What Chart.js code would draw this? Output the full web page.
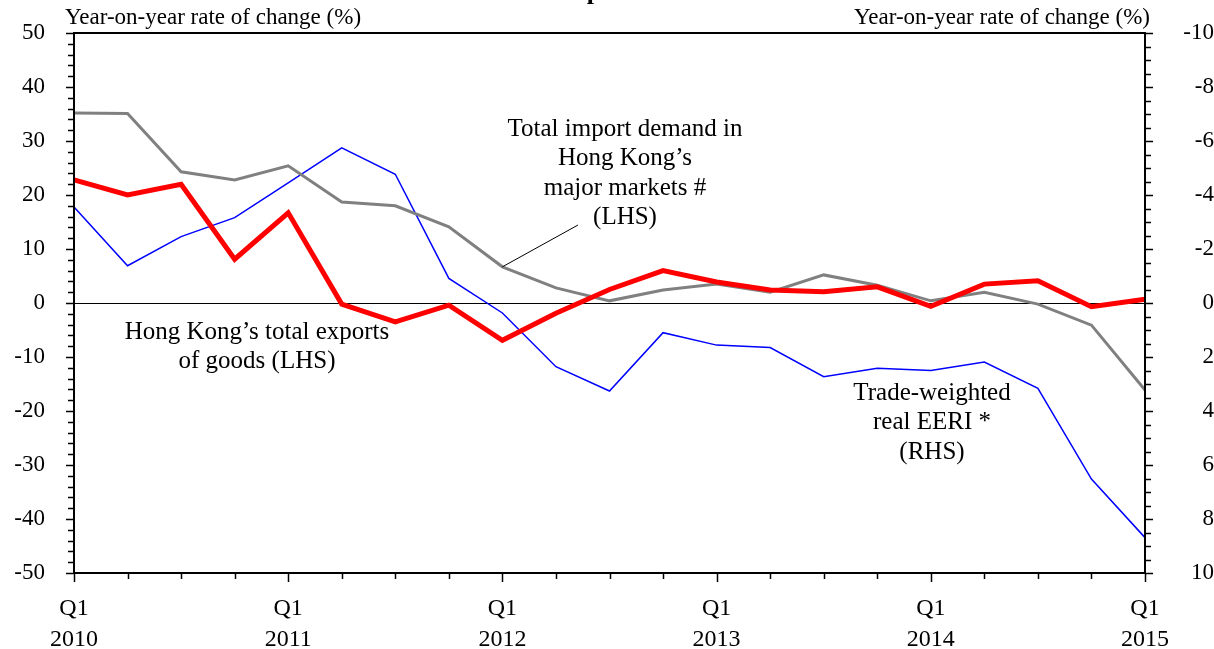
<!DOCTYPE html>
<html>
<head>
<meta charset="utf-8">
<script src="https://cdn.jsdelivr.net/npm/chart.js@4.4.1/dist/chart.umd.min.js"></script>
<style>
  html, body { margin: 0; padding: 0; background: #fff; }
  #wrap { width: 1214px; height: 649px; position: relative; }
</style>
</head>
<body>
<div id="wrap"><canvas id="chart"></canvas></div>
<script>
// quarters Q1 2010 .. Q1 2015
const quarters = [
  'Q1 2010', 'Q2 2010', 'Q3 2010', 'Q4 2010',
  'Q1 2011', 'Q2 2011', 'Q3 2011', 'Q4 2011',
  'Q1 2012', 'Q2 2012', 'Q3 2012', 'Q4 2012',
  'Q1 2013', 'Q2 2013', 'Q3 2013', 'Q4 2013',
  'Q1 2014', 'Q2 2014', 'Q3 2014', 'Q4 2014',
  'Q1 2015'
];

// Hong Kong's total exports of goods (LHS, %)
const hkExports = [22.8, 20.0, 22.0, 8.1, 16.7, -0.2, -3.5, -0.4, -6.9, -1.9, 2.5, 6.0, 3.9, 2.4, 2.1, 3.0, -0.6, 3.5, 4.1, -0.7, 0.7];
// Total import demand in major markets (LHS, %)
const importDemand = [35.2, 35.1, 24.3, 22.8, 25.4, 18.7, 18.0, 14.1, 6.7, 2.8, 0.4, 2.4, 3.5, 2.0, 5.2, 3.3, 0.4, 2.0, -0.2, -4.1, -16.1];
// Trade-weighted real EERI (RHS, %, inverted scale)
const realEERI = [-3.56, -1.38, -2.46, -3.16, -4.45, -5.75, -4.77, -0.91, 0.37, 2.36, 3.26, 1.1, 1.56, 1.65, 2.73, 2.42, 2.5, 2.19, 3.16, 6.52, 8.69];

const leftMin = -50, leftMax = 50, leftStep = 2, leftLabelStep = 10;
const rightMin = -10, rightMax = 10, rightStep = 0.5, rightLabelStep = 2;

const serif = '"Liberation Serif", "DejaVu Serif", serif';

// frame, zero line, tick marks and annotations
const decorations = {
  id: 'decorations',
  beforeDatasetsDraw(chart) {
    const ctx = chart.ctx, a = chart.chartArea, y = chart.scales.y;
    const y0 = Math.round(y.getPixelForValue(0)) + 0.5;
    ctx.save();
    ctx.strokeStyle = '#000';
    ctx.lineWidth = 1.2;
    ctx.beginPath();
    ctx.moveTo(a.left, y0);
    ctx.lineTo(a.right, y0);
    ctx.stroke();
    ctx.restore();
  },
  afterDatasetsDraw(chart) {
    const ctx = chart.ctx, a = chart.chartArea;
    const x = chart.scales.x, y = chart.scales.y, y2 = chart.scales.y2;
    ctx.save();
    ctx.strokeStyle = '#000';
    ctx.lineWidth = 2;
    ctx.strokeRect(a.left, a.top, a.right - a.left, a.bottom - a.top);

    ctx.lineWidth = 1.5;
    ctx.beginPath();
    for (let v = leftMin; v <= leftMax; v += leftStep) {
      const py = Math.round(y.getPixelForValue(v)) + 0.5;
      const len = v % leftLabelStep === 0 ? 8 : 6;
      ctx.moveTo(a.left, py);
      ctx.lineTo(a.left - len, py);
    }
    for (let v = rightMin; v <= rightMax; v += rightStep) {
      const py = Math.round(y2.getPixelForValue(v)) + 0.5;
      const len = v % rightLabelStep === 0 ? 8 : 6;
      ctx.moveTo(a.right, py);
      ctx.lineTo(a.right + len, py);
    }
    quarters.forEach((q, i) => {
      const px = Math.round(x.getPixelForValue(i)) + 0.5;
      const len = q.startsWith('Q1') ? 9 : 6;
      ctx.moveTo(px, a.bottom);
      ctx.lineTo(px, a.bottom + len);
    });
    ctx.stroke();

    // leader line for import demand label
    ctx.lineWidth = 1;
    ctx.beginPath();
    ctx.moveTo(x.getPixelForValue(8), y.getPixelForValue(importDemand[8]));
    ctx.lineTo(578, 225);
    ctx.stroke();

    ctx.fillStyle = '#000';
    ctx.textBaseline = 'middle';
    ctx.font = '23px ' + serif;
    ctx.textAlign = 'left';
    ctx.fillText('Year-on-year rate of change (%)', 65, 18);
    ctx.textAlign = 'right';
    ctx.fillText('Year-on-year rate of change (%)', 1150, 18);

    ctx.font = '25px ' + serif;
    ctx.textAlign = 'center';
    const notes = [
      { x: 625, y: 129, lines: ['Total import demand in', 'Hong Kong\u2019s', 'major markets #', '(LHS)'] },
      { x: 257, y: 332, lines: ['Hong Kong\u2019s total exports', 'of goods (LHS)'] },
      { x: 932, y: 393, lines: ['Trade-weighted', 'real EERI *', '(RHS)'] }
    ];
    notes.forEach(n => n.lines.forEach((t, k) => ctx.fillText(t, n.x, n.y + k * 29.5)));

    // title, cut off at the top of the picture
    ctx.font = 'bold 26px ' + serif;
    ctx.textBaseline = 'alphabetic';
    ctx.fillText('p', 594, -1);
    ctx.restore();
  }
};

const noPad = s => { s.paddingTop = 0; s.paddingBottom = 0; s.paddingLeft = 0; s.paddingRight = 0; };

new Chart(document.getElementById('chart'), {
  type: 'line',
  data: {
    labels: quarters,
    datasets: [
      { label: "Hong Kong's total exports of goods", data: hkExports, yAxisID: 'y',
        borderColor: '#ff0000', borderWidth: 5, pointRadius: 0, tension: 0 },
      { label: 'Total import demand', data: importDemand, yAxisID: 'y',
        borderColor: '#808080', borderWidth: 3, pointRadius: 0, tension: 0 },
      { label: 'Trade-weighted real EERI', data: realEERI, yAxisID: 'y2',
        borderColor: '#0000ff', borderWidth: 1.5, pointRadius: 0, tension: 0 }
    ]
  },
  options: {
    responsive: true,
    maintainAspectRatio: false,
    animation: false,
    layout: { padding: { top: 33, left: 0, right: 0, bottom: 0 } },
    plugins: { legend: { display: false }, tooltip: { enabled: false }, title: { display: false } },
    scales: {
      x: {
        type: 'category',
        offset: false,
        grid: { display: false, drawTicks: false },
        border: { display: false },
        ticks: {
          autoSkip: false, maxRotation: 0, padding: 20, color: '#000',
          font: { family: serif, size: 24, lineHeight: 1.3 },
          callback: (v, i) => quarters[i].startsWith('Q1') ? quarters[i].split(' ') : ''
        },
        afterFit: s => { s.height = 76; noPad(s); }
      },
      y: {
        position: 'left', min: leftMin, max: leftMax,
        grid: { display: false, drawTicks: false },
        border: { display: false },
        ticks: {
          stepSize: leftStep, autoSkip: false, padding: 29, color: '#000',
          font: { family: serif, size: 23 },
          callback: v => v % leftLabelStep === 0 ? String(v) : ''
        },
        afterFit: s => { s.width = 74; noPad(s); }
      },
      y2: {
        position: 'right', reverse: true, min: rightMin, max: rightMax,
        grid: { display: false, drawTicks: false },
        border: { display: false },
        ticks: {
          stepSize: rightStep, autoSkip: false, padding: 22, color: '#000', crossAlign: 'far',
          font: { family: serif, size: 23 },
          callback: v => v % rightLabelStep === 0 ? String(v) : ''
        },
        afterFit: s => { s.width = 69; noPad(s); }
      }
    }
  },
  plugins: [decorations]
});
</script>
</body>
</html>
